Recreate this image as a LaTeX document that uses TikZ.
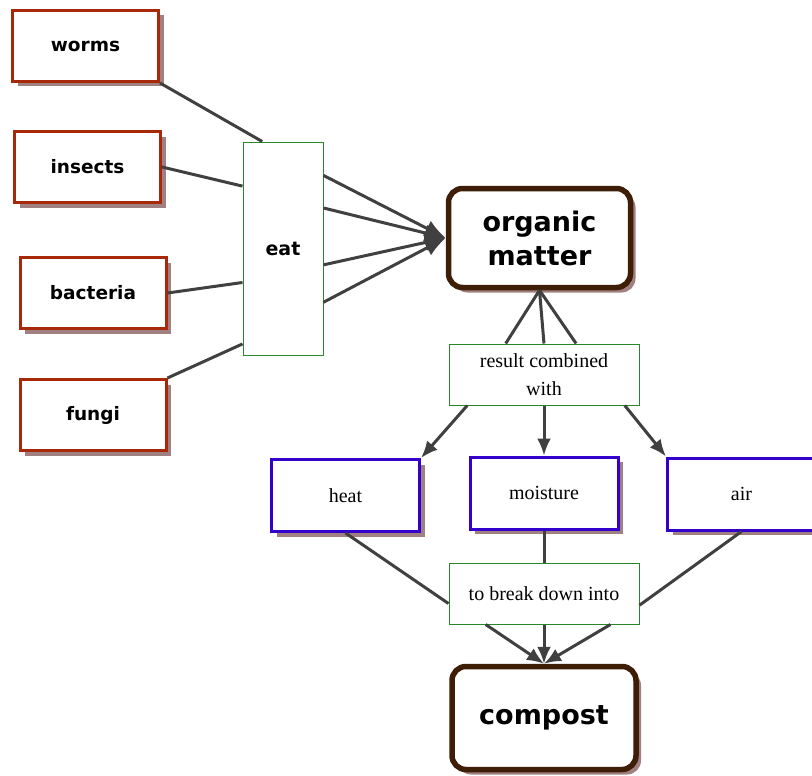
\documentclass[tikz,border=0pt]{standalone}
\usepackage{fontspec}
\setmainfont{Liberation Serif}
\newfontfamily\conceptfont{DejaVu Sans}
\usetikzlibrary{positioning,shadows,arrows.meta}
\definecolor{redbox}{RGB}{168,40,10}
\definecolor{violetbox}{RGB}{51,0,204}
\definecolor{greenbox}{RGB}{40,135,40}
\definecolor{brownbox}{RGB}{62,30,6}
\definecolor{shade}{RGB}{160,128,128}
\definecolor{linec}{RGB}{64,64,64}
\tikzstyle{sh} = [general shadow={fill=shade, shadow xshift=5pt, shadow yshift=-5pt}]
\tikzset{
 r/.style
  = {rectangle, draw=redbox, line width=3pt, fill=white, sh, minimum width=146pt,
     minimum height=71pt, font=\conceptfont\bfseries\fontsize{18.5}{22}\selectfont},
 v/.style
  = {rectangle, draw=violetbox, line width=3pt, fill=white, sh, minimum width=148pt,
     minimum height=72pt, font=\fontsize{20}{24}\selectfont},
 g/.style
  = {rectangle, draw=greenbox, line width=1pt, fill=white, inner sep=2pt,
     font=\fontsize{20}{28}\selectfont, align=center},
 bb/.style
  = {rectangle, draw=brownbox, line width=5.5pt, fill=white, sh, rounded corners=14pt,
     align=center, font=\conceptfont\bfseries\fontsize{27}{34}\selectfont},
 l/.style
  = {draw=linec, line width=3pt},
 la/.style
  = {draw=linec, line width=3pt, -{Latex[length=17pt,width=14pt]}},
}
\begin{document}
\begin{tikzpicture}[x=1pt, y=-1pt]
    \useasboundingbox (0,0) rectangle (812,776);

    \node [r] (worms) at (85.5,46) {worms};
    \node [r] (insects) at (87.5,167) {insects};
    \node [r] (bacteria) at (93,293) {bacteria};
    \node [r] (fungi) at (93,415) {fungi};
    \node [g, minimum width=80pt, minimum height=213pt,
           font=\conceptfont\bfseries\fontsize{19}{20}\selectfont] (eat) at (283,248.5) {eat};

    \node [bb, minimum width=182pt, minimum height=99pt] (organic) at (539.5,238) {organic\\ matter};
    \node [g, minimum width=190pt, minimum height=61pt] (result) at (544,374.5) {result combined\\ with};

    \node [v] (heat) at (345.5,495.5) {heat};
    \node [v] (moisture) at (544,493) {moisture};
    \node [v] (air) at (741.5,494) {air};

    \node [g, minimum width=190pt, minimum height=61pt] (break) at (544,593.5) {to break down into};
    \node [bb, minimum width=184pt, minimum height=103pt] (compost) at (544,718) {compost};

    \path [l] (worms.south east) -- (eat.101);
    \path [l] (insects.east) -- (eat.123);
    \path [l] (bacteria.east) -- (eat.-140);
    \path [l] (fungi.north east) -- (eat.-113);
    \foreach \a in {61,45,-22,-53}
      \path [la, -{Latex[length=21pt,width=17pt]}] (eat.\a) -- (organic.west);

    \foreach \a in {141,90,44}
      \path [l] (organic.south) -- (result.\a);
    \path [la] (result.-158) -- (heat.north east);
    \path [la] (result.south) -- (moisture.north);
    \path [la] (result.-21) -- (air.north west);

    \path [l] (heat.south) -- (break.-174);
    \path [l] (moisture.south) -- (break.north);
    \path [l] (air.south) -- (break.-7);
    \foreach \a in {-152,-90,-25}
      \path [la] (break.\a) -- (compost.north);
\end{tikzpicture}
\end{document}
